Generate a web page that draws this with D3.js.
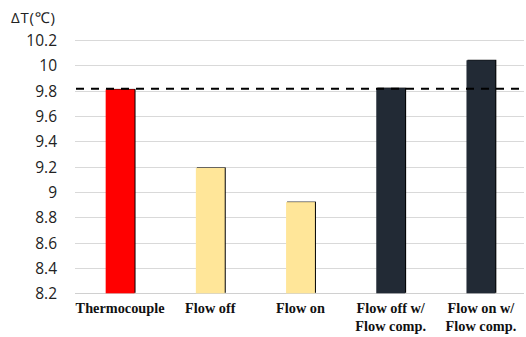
<!DOCTYPE html>
<html><head><meta charset="utf-8">
<script src="https://cdn.jsdelivr.net/npm/d3@7"></script>
<style>body{margin:0;background:#fff}svg{display:block}</style>
</head><body><svg id="c" width="526" height="337"></svg>
<script>
const categories = [["Thermocouple"],["Flow off"],["Flow on"],["Flow off w/","Flow comp."],["Flow on w/","Flow comp."]];
const values = [9.81, 9.19, 8.92, 9.82, 10.04];
const colors = ["#FF0000","#FFE699","#FFE699","#222A35","#222A35"];
const yTicks = [8.2,8.4,8.6,8.8,9,9.2,9.4,9.6,9.8,10,10.2];
const refValue = 9.815;
const yLabel = "ΔT(℃)";

const svg = d3.select("#c");
const x = d3.scaleBand().domain(d3.range(values.length)).range([75,526]).paddingInner(0.68).paddingOuter(0.34);
const y = d3.scaleLinear().domain([8.2,10.2]).range([293.3,40]);

// gridlines
svg.append("g").selectAll("line").data(yTicks).join("line")
  .attr("x1",75).attr("x2",524).attr("y1",d=>Math.round(y(d))+0.5).attr("y2",d=>Math.round(y(d))+0.5)
  .attr("stroke",d=>d===8.2?"#d0d0d0":"#d9d9d9").attr("stroke-width",1);

// y axis labels
const yAxis = d3.axisLeft(y).tickValues(yTicks).tickSize(0).tickPadding(0).tickFormat(d=>String(d));
const ga = svg.append("g").attr("transform","translate(57,0)").call(yAxis);
ga.select(".domain").remove();
ga.selectAll("text").attr("font-family","'Open Sans','Noto Sans',sans-serif").attr("font-size",15.5).attr("fill","#222").attr("dy","0.35em");

svg.append("text").attr("x",11).attr("y",23).text(yLabel)
  .attr("font-family","'Open Sans','Noto Sans',sans-serif").attr("font-size",15).attr("letter-spacing",0.8).attr("fill","#222");

// bars
const bw = x.bandwidth();
svg.append("g").selectAll("rect").data(values).join("rect")
  .attr("x",(d,i)=>x(i)+1).attr("y",d=>y(d)-0.5).attr("width",bw).attr("height",d=>y(8.2)-y(d))
  .attr("fill","#000");
svg.append("g").selectAll("rect").data(values).join("rect")
  .attr("x",(d,i)=>x(i)).attr("y",d=>y(d)).attr("width",bw).attr("height",d=>y(8.2)-y(d))
  .attr("fill",(d,i)=>colors[i]);

// reference dashed line
svg.append("line").attr("x1",76).attr("x2",520).attr("y1",y(refValue)).attr("y2",y(refValue))
  .attr("stroke","#000").attr("stroke-width",2).attr("stroke-dasharray","8,7");

// category labels
const gl = svg.append("g");
categories.forEach((lines,i)=>{
  const t = gl.append("text").attr("x",x(i)+bw/2).attr("text-anchor","middle")
    .attr("font-family","'Liberation Serif','Times New Roman',serif").attr("font-weight","bold").attr("font-size",14.3).attr("fill","#111");
  lines.forEach((s,j)=>t.append("tspan").attr("x",x(i)+bw/2).attr("y",313+j*18).text(s));
});
</script></body></html>
